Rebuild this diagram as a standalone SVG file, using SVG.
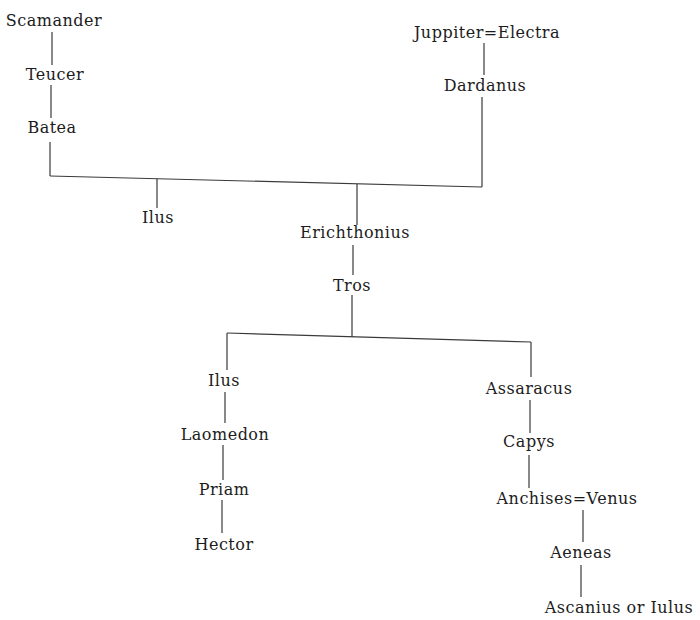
<svg xmlns="http://www.w3.org/2000/svg" width="700" height="620" viewBox="0 0 700 620">
<style>
.t text{font-family:"DejaVu Serif","Liberation Serif",serif;font-size:16px;letter-spacing:0.5px;fill:#1c1c1c;text-anchor:middle}
.c line,.c polyline{stroke:#3a3a3a;stroke-width:1.2;fill:none}
</style>
<rect width="700" height="620" fill="#ffffff"/>
<g class="c" id="connectors">
<line x1="52" y1="32" x2="52" y2="65"/>
<line x1="51" y1="85" x2="51" y2="118"/>
<line x1="50" y1="142" x2="50" y2="176"/>
<polyline points="50,176 482,187"/>
<line x1="484" y1="43" x2="484" y2="75"/>
<line x1="482" y1="97" x2="482" y2="187"/>
<line x1="157" y1="179" x2="157" y2="208"/>
<line x1="357" y1="184" x2="357" y2="225"/>
<line x1="353" y1="245" x2="353" y2="275"/>
<line x1="352" y1="295" x2="352" y2="337"/>
<polyline points="227,333 531,342"/>
<line x1="227" y1="333" x2="227" y2="370"/>
<line x1="225" y1="392" x2="225" y2="423"/>
<line x1="223" y1="445" x2="223" y2="480"/>
<line x1="222" y1="500" x2="222" y2="533"/>
<line x1="531" y1="342" x2="531" y2="377"/>
<line x1="530" y1="400" x2="530" y2="433"/>
<line x1="529" y1="455" x2="529" y2="488"/>
<line x1="583" y1="510" x2="583" y2="542"/>
<line x1="581" y1="565" x2="581" y2="597"/>
</g>
<g class="t">
<g id="scamander"><text x="54" y="26">Scamander</text></g>
<g id="teucer"><text x="55" y="80">Teucer</text></g>
<g id="batea"><text x="52" y="133">Batea</text></g>
<g id="jupiter-electra"><text x="487" y="38">Juppiter=Electra</text></g>
<g id="dardanus"><text x="485" y="91">Dardanus</text></g>
<g id="ilus1"><text x="158" y="223">Ilus</text></g>
<g id="erichthonius"><text x="355" y="238">Erichthonius</text></g>
<g id="tros"><text x="352" y="291">Tros</text></g>
<g id="ilus2"><text x="224" y="386">Ilus</text></g>
<g id="laomedon"><text x="225" y="440">Laomedon</text></g>
<g id="priam"><text x="224" y="495">Priam</text></g>
<g id="hector"><text x="224" y="550">Hector</text></g>
<g id="assaracus"><text x="529" y="394">Assaracus</text></g>
<g id="capys"><text x="529" y="447">Capys</text></g>
<g id="anchises-venus"><text x="567" y="504">Anchises=Venus</text></g>
<g id="aeneas"><text x="581" y="558">Aeneas</text></g>
<g id="ascanius"><text x="619" y="613">Ascanius or Iulus</text></g>
</g>
</svg>
